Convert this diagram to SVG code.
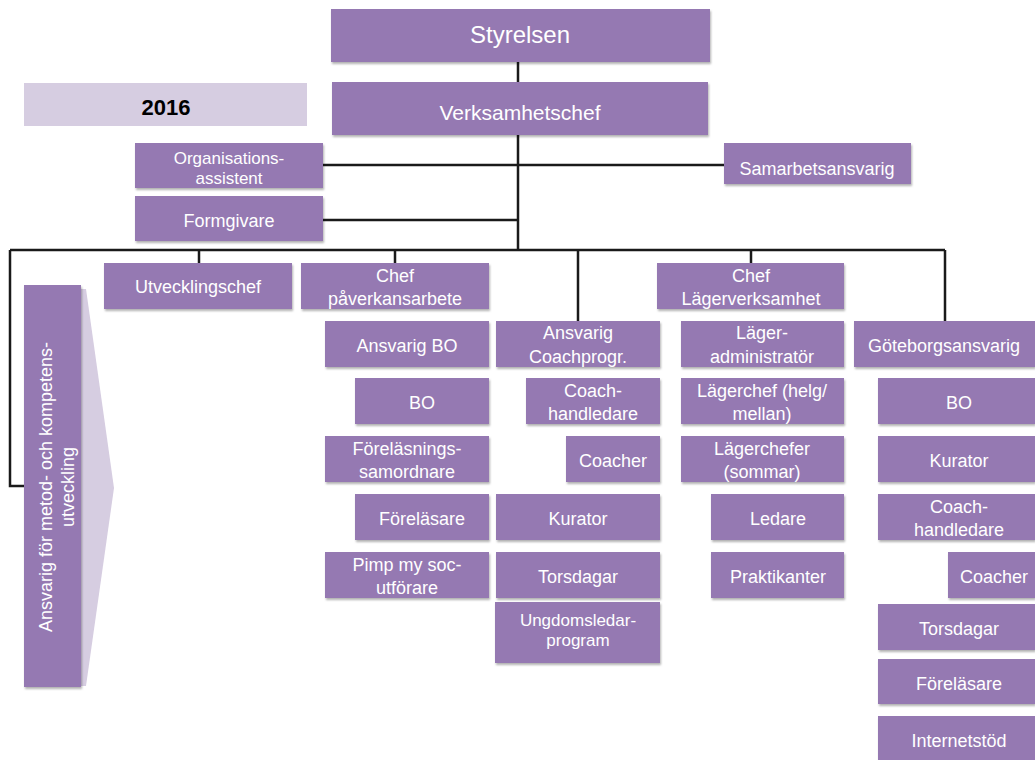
<svg xmlns="http://www.w3.org/2000/svg" width="1035" height="760" viewBox="0 0 1035 760">
<defs>
<filter id="sh" x="-5%" y="-10%" width="115%" height="130%">
<feDropShadow dx="1" dy="2" stdDeviation="1.2" flood-color="#000" flood-opacity="0.3"/>
</filter>
</defs>
<style>
.b{fill:#9579b2;filter:url(#sh)}
.lt{fill:#d6cde1}
.t{font-family:"Liberation Sans",Arial,sans-serif;font-size:18px;fill:#fff;text-anchor:middle}
.s{font-size:17px}
.c{fill:none;stroke:#1a1a1a;stroke-width:2.5}
</style>
<rect width="1035" height="760" fill="#fff"/>

<g id="connectors">
<path class="c" d="M518 62V82M518 135V250M323 165H724M323 220H518M10 250H945M199 250V263M395 250V263M578 250V321M751 250V263M945 250V321M10 250V486H24"/>
</g>

<g id="n-styrelsen"><rect class="b" x="331" y="9" width="379" height="53"/><text class="t" x="520" y="43" style="font-size:24px">Styrelsen</text></g>
<g id="n-verksamhetschef"><rect class="b" x="332" y="82" width="376" height="53"/><text class="t" x="520" y="120" style="font-size:21px">Verksamhetschef</text></g>
<g id="n-2016"><rect class="lt" x="24" y="83" width="283" height="43"/><text class="t" x="166" y="115" style="font-size:22px;font-weight:bold;fill:#000">2016</text></g>
<g id="n-org"><rect class="b" x="135" y="143" width="188" height="45"/><text class="t s" x="229" y="164">Organisations-</text><text class="t s" x="229" y="184">assistent</text></g>
<g id="n-formgivare"><rect class="b" x="135" y="196" width="188" height="45"/><text class="t" x="229" y="227">Formgivare</text></g>
<g id="n-samarbets"><rect class="b" x="724" y="143" width="187" height="41"/><text class="t" x="817" y="175">Samarbetsansvarig</text></g>

<g id="n-metod">
<polygon class="lt" points="70,289 86,289 114,488 86,686 70,686"/>
<rect class="b" x="24" y="285" width="57" height="402"/>
<g transform="translate(52,487) rotate(-90)"><text class="t" x="0" y="0">Ansvarig för metod- och kompetens-</text><text class="t" x="0" y="22">utveckling</text></g>
</g>

<g id="n-utvecklingschef"><rect class="b" x="104" y="263" width="188" height="46"/><text class="t" x="198" y="293">Utvecklingschef</text></g>
<g id="n-chefpav"><rect class="b" x="301" y="263" width="188" height="46"/><text class="t" x="395" y="282">Chef</text><text class="t" x="395" y="305">påverkansarbete</text></g>
<g id="n-ansvbo"><rect class="b" x="325" y="321" width="164" height="46"/><text class="t" x="407" y="352">Ansvarig BO</text></g>
<g id="n-bo1"><rect class="b" x="355" y="378" width="134" height="46"/><text class="t" x="422" y="409">BO</text></g>
<g id="n-forelsam"><rect class="b" x="325" y="436" width="164" height="46"/><text class="t" x="407" y="455">Föreläsnings-</text><text class="t" x="407" y="478">samordnare</text></g>
<g id="n-forel1"><rect class="b" x="355" y="494" width="134" height="46"/><text class="t" x="422" y="525">Föreläsare</text></g>
<g id="n-pimp"><rect class="b" x="325" y="552" width="164" height="46"/><text class="t" x="407" y="571">Pimp my soc-</text><text class="t" x="407" y="594">utförare</text></g>

<g id="n-ansvcoach"><rect class="b" x="496" y="321" width="164" height="46"/><text class="t" x="578" y="339">Ansvarig</text><text class="t" x="578" y="363">Coachprogr.</text></g>
<g id="n-coachhl1"><rect class="b" x="526" y="378" width="134" height="46"/><text class="t" x="593" y="397">Coach-</text><text class="t" x="593" y="420">handledare</text></g>
<g id="n-coacher1"><rect class="b" x="566" y="436" width="94" height="46"/><text class="t" x="613" y="467">Coacher</text></g>
<g id="n-kurator1"><rect class="b" x="496" y="494" width="164" height="46"/><text class="t" x="578" y="525">Kurator</text></g>
<g id="n-torsdagar1"><rect class="b" x="496" y="552" width="164" height="46"/><text class="t" x="578" y="583">Torsdagar</text></g>
<g id="n-ungdom"><rect class="b" x="495" y="602" width="165" height="61"/><text class="t s" x="578" y="626">Ungdomsledar-</text><text class="t s" x="578" y="646">program</text></g>

<g id="n-cheflager"><rect class="b" x="657" y="263" width="187" height="46"/><text class="t" x="751" y="282">Chef</text><text class="t" x="751" y="305">Lägerverksamhet</text></g>
<g id="n-lageradm"><rect class="b" x="681" y="321" width="163" height="46"/><text class="t" x="762" y="339">Läger-</text><text class="t" x="762" y="363">administratör</text></g>
<g id="n-lagerchef"><rect class="b" x="681" y="378" width="163" height="46"/><text class="t" x="762" y="397">Lägerchef (helg/</text><text class="t" x="762" y="420">mellan)</text></g>
<g id="n-lagerchefer"><rect class="b" x="681" y="436" width="163" height="46"/><text class="t" x="762" y="455">Lägerchefer</text><text class="t" x="762" y="478">(sommar)</text></g>
<g id="n-ledare"><rect class="b" x="711" y="494" width="133" height="46"/><text class="t" x="778" y="525">Ledare</text></g>
<g id="n-praktikanter"><rect class="b" x="711" y="552" width="133" height="46"/><text class="t" x="778" y="583">Praktikanter</text></g>

<g id="n-goteborg"><rect class="b" x="854" y="321" width="181" height="46"/><text class="t" x="944" y="352">Göteborgsansvarig</text></g>
<g id="n-bo2"><rect class="b" x="878" y="378" width="157" height="46"/><text class="t" x="959" y="409">BO</text></g>
<g id="n-kurator2"><rect class="b" x="878" y="436" width="157" height="46"/><text class="t" x="959" y="467">Kurator</text></g>
<g id="n-coachhl2"><rect class="b" x="878" y="494" width="157" height="46"/><text class="t" x="959" y="513">Coach-</text><text class="t" x="959" y="536">handledare</text></g>
<g id="n-coacher2"><rect class="b" x="948" y="552" width="87" height="46"/><text class="t" x="994" y="583">Coacher</text></g>
<g id="n-torsdagar2"><rect class="b" x="878" y="604" width="157" height="46"/><text class="t" x="959" y="635">Torsdagar</text></g>
<g id="n-forel2"><rect class="b" x="878" y="659" width="157" height="45"/><text class="t" x="959" y="690">Föreläsare</text></g>
<g id="n-internet"><rect class="b" x="878" y="716" width="157" height="44"/><text class="t" x="959" y="747">Internetstöd</text></g>
</svg>
